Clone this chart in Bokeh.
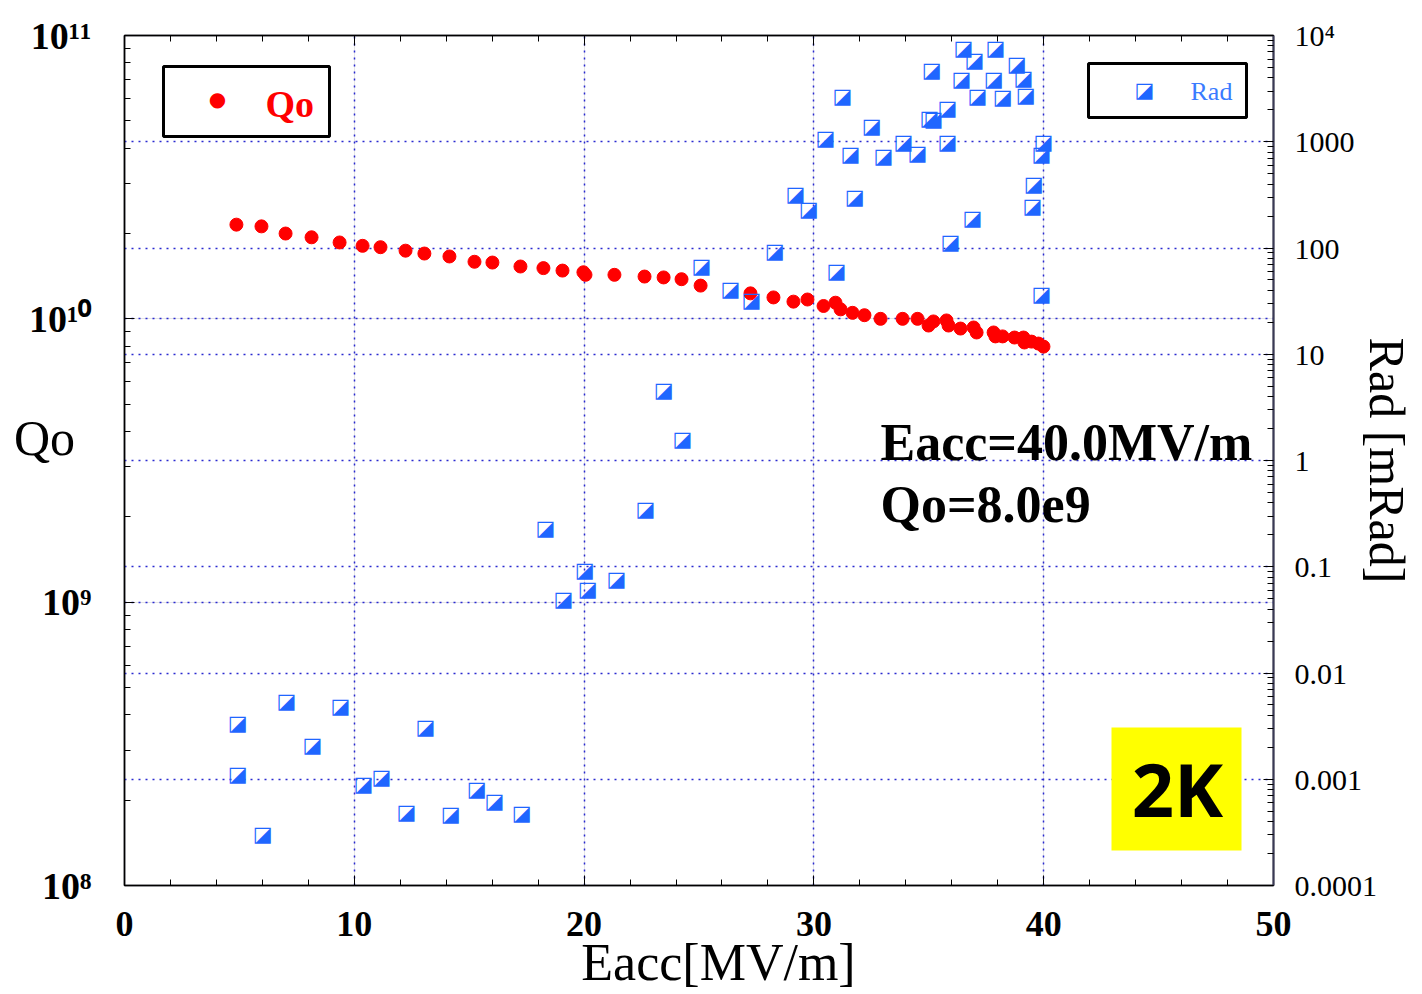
from bokeh.plotting import figure
from bokeh.models import (Range1d, LogAxis, LinearAxis, FixedTicker, SingleIntervalTicker,
                          Grid, Label, BoxAnnotation, LogScale, CustomJSTickFormatter)
from bokeh.core.properties import value
from bokeh.embed import file_html
from bokeh.resources import INLINE

# ---------------- data ----------------
qo_eacc = [4.87, 5.96, 7.01, 8.14, 9.36, 10.36, 11.14, 12.23, 13.05, 14.14, 15.23, 16.01,
           17.23, 18.23, 19.06, 19.97, 20.06, 21.32, 22.63, 23.46, 24.24, 25.07, 27.24,
           28.24, 29.11, 29.72, 30.42, 30.94, 31.16, 31.68, 32.20, 32.90, 33.86, 34.51,
           34.99, 35.20, 35.77, 35.86, 36.38, 36.95, 37.08, 37.82, 37.90, 38.21, 38.73,
           39.12, 39.16, 39.47, 39.77, 39.99]
qo_vals = [2.15e10, 2.12e10, 2.00e10, 1.94e10, 1.86e10, 1.81e10, 1.79e10, 1.74e10, 1.70e10,
           1.66e10, 1.59e10, 1.58e10, 1.53e10, 1.51e10, 1.48e10, 1.46e10, 1.43e10, 1.43e10,
           1.41e10, 1.40e10, 1.38e10, 1.31e10, 1.23e10, 1.19e10, 1.15e10, 1.17e10, 1.11e10,
           1.14e10, 1.08e10, 1.05e10, 1.03e10, 1.00e10, 1.00e10, 1.00e10, 9.47e9, 9.79e9,
           9.87e9, 9.47e9, 9.24e9, 9.32e9, 8.95e9, 8.95e9, 8.67e9, 8.67e9, 8.59e9, 8.59e9,
           8.25e9, 8.31e9, 8.18e9, 7.98e9]

rad_eacc = [4.92, 4.92, 6.01, 7.05, 8.18, 9.40, 10.40, 11.18, 12.27, 13.10, 14.19, 15.32,
            16.10, 17.28, 18.32, 19.10, 20.02, 20.15, 21.41, 22.67, 23.46, 24.28, 25.11,
            26.37, 27.28, 28.29, 29.20, 29.77, 30.50, 30.98, 31.24, 31.59, 31.77, 32.51,
            33.03, 33.90, 34.51, 35.03, 35.20, 35.12, 35.81, 35.81, 35.94, 36.42, 36.51,
            36.99, 36.90, 37.12, 37.90, 37.82, 38.21, 38.82, 39.12, 39.21, 39.56, 39.51,
            39.90, 39.99, 39.90]
rad_vals = [3.35e-3, 1.13e-3, 3.08e-4, 5.51e-3, 2.12e-3, 4.94e-3, 8.93e-4, 1.06e-3, 4.97e-4,
            3.13e-3, 4.66e-4, 8.01e-4, 6.18e-4, 4.86e-4, 0.234, 0.0502, 0.0942, 0.0624,
            0.0759, 0.346, 4.56, 1.61, 67, 40.7, 32.1, 94.7, 319, 235, 1073, 60.1, 2723,
            759, 299, 1393, 727, 984, 792, 1690, 1650, 4685, 2056, 984, 115, 3937, 7710,
            5821, 190, 2723, 7710, 3937, 2609, 5335, 4024, 2784, 404, 251, 759, 984, 37.3]

x_grid = [10, 20, 30, 40]
q_ticks = [1e8, 1e9, 1e10, 1e11]
q_labels = ["10\u2078", "10\u2079", "10\u00b9\u2070", "10\u00b9\u00b9"]
rad_ticks = [1e-4, 1e-3, 1e-2, 1e-1, 1, 10, 100, 1000, 1e4]
rad_labels = ["0.0001", "0.001", "0.01", "0.1", "1", "10", "100", "1000", "10\u2074"]
rad_grid = [1e-3, 1e-2, 1e-1, 1, 10, 100, 1000]
q_grid = [1e9, 1e10]

q_minor = [k * 10.0 ** e for e in (8, 9, 10) for k in range(2, 10)]
rad_minor = [k * 10.0 ** e for e in range(-4, 4) for k in range(2, 10)]

x_title = "Eacc[MV/m]"
y_title = "Qo"
y2_title = "Rad [mRad]"
annot_line1 = "Eacc=40.0MV/m"
annot_line2 = "Qo=8.0e9"
badge_text = "2K"
legend_q = "Qo"
legend_r = "Rad"

# ---------------- layout ----------------
W, H = 1420, 994
FL, FT, FW, FH = 124, 35, 1149, 850


def fx(px):
    return px - FL


def fy(py):
    return (FT + FH) - py


SERIF = "Liberation Serif"
GRID_COLOR = "#2a2ad0"
BLUE = "#1f66ff"

p = figure(width=W, height=H, x_range=Range1d(0, 50), y_range=Range1d(1e8, 1e11),
           y_axis_type="log", output_backend="svg", toolbar_location=None,
           x_axis_location=None, y_axis_location=None,
           min_border_left=FL, min_border_top=FT,
           min_border_right=W - FL - FW, min_border_bottom=H - FT - FH)
p.extra_y_ranges = {"rad": Range1d(1e-4, 1e4)}
p.extra_y_scales = {"rad": LogScale()}
p.outline_line_color = "#222233"
p.outline_line_width = 1.5
p.background_fill_color = "white"
p.border_fill_color = "white"

blank = CustomJSTickFormatter(code="return ''")
LOOKUP = """
const lt = Math.log10(tick);
for (let i = 0; i < tvals.length; i++) {
  if (Math.abs(Math.log10(tvals[i]) - lt) < 1e-6) return tlabels[i];
}
return '';
"""


def style_axis(ax):
    ax.major_tick_in = 10
    ax.major_tick_out = 0
    ax.minor_tick_in = 6
    ax.minor_tick_out = 0
    ax.axis_line_color = "black"
    ax.axis_line_width = 1.5
    ax.major_tick_line_color = "black"
    ax.minor_tick_line_color = "black"


xb = LinearAxis(ticker=SingleIntervalTicker(interval=10, num_minor_ticks=5))
style_axis(xb)
xb.major_label_text_font = SERIF
xb.major_label_text_font_style = "bold"
xb.major_label_text_font_size = "36px"
xb.major_label_text_color = "black"
xb.major_label_standoff = 26
xb.axis_label = "\u00a0\u00a0\u00a0" + x_title
xb.axis_label_text_font = SERIF
xb.axis_label_text_font_style = "normal"
xb.axis_label_text_font_size = "52px"
xb.axis_label_text_color = "black"
xb.axis_label_standoff = -5
p.add_layout(xb, "below")

xt = LinearAxis(ticker=SingleIntervalTicker(interval=10, num_minor_ticks=5), formatter=blank)
style_axis(xt)
xt.major_label_text_font_size = "1px"
xt.major_label_standoff = 0
p.add_layout(xt, "above")

yl = LogAxis(ticker=FixedTicker(ticks=q_ticks, minor_ticks=q_minor),
             formatter=CustomJSTickFormatter(args=dict(tvals=q_ticks, tlabels=q_labels), code=LOOKUP))
style_axis(yl)
yl.major_label_text_font = SERIF
yl.major_label_text_font_style = "bold"
yl.major_label_text_font_size = "38px"
yl.major_label_text_color = "black"
yl.major_label_standoff = 33
yl.axis_label = y_title + "\n\u00a0"
yl.axis_label_orientation = "horizontal"
yl.axis_label_text_font = SERIF
yl.axis_label_text_font_style = "normal"
yl.axis_label_text_font_size = "50px"
yl.axis_label_text_line_height = 0.8
yl.axis_label_text_color = "black"
yl.axis_label_standoff = -49
p.add_layout(yl, "left")

yr = LogAxis(y_range_name="rad", ticker=FixedTicker(ticks=rad_ticks, minor_ticks=rad_minor),
             formatter=CustomJSTickFormatter(args=dict(tvals=rad_ticks, tlabels=rad_labels), code=LOOKUP))
style_axis(yr)
yr.axis_line_color = "#3a3a55"
yr.axis_line_width = 2
yr.major_label_text_font = SERIF
yr.major_label_text_font_size = "30px"
yr.major_label_text_color = "black"
yr.major_label_standoff = 21
yr.axis_label = y2_title
yr.axis_label_text_font = SERIF
yr.axis_label_text_font_style = "normal"
yr.axis_label_text_font_size = "50px"
yr.axis_label_text_color = "black"
yr.axis_label_standoff = -21
p.add_layout(yr, "right")

# grids (dotted blue)
for g in (Grid(dimension=0, ticker=FixedTicker(ticks=x_grid)),
          Grid(dimension=1, ticker=FixedTicker(ticks=q_grid)),
          Grid(dimension=1, y_range_name="rad", ticker=FixedTicker(ticks=rad_grid))):
    g.grid_line_color = GRID_COLOR
    g.grid_line_width = 1.5
    g.grid_line_dash = "2 5"
    p.add_layout(g)

# ---------------- data marks ----------------
p.scatter(qo_eacc, qo_vals, size=13, marker="circle", fill_color="#ff0000", line_color="#ff0000")
p.text(rad_eacc, rad_vals, text=["\u25ea"] * len(rad_eacc), y_range_name="rad",
       text_font=value("DejaVu Sans"), text_font_size="21px", text_color=BLUE,
       text_align="center", text_baseline="middle")


def box(l, r, t, b, **kw):
    return BoxAnnotation(left=fx(l), right=fx(r), top=fy(t), bottom=fy(b),
                         left_units="screen", right_units="screen", top_units="screen",
                         bottom_units="screen", fill_alpha=1.0, line_alpha=1.0, **kw)


def label(x, y, text, **kw):
    return Label(x=fx(x), y=fy(y), x_units="screen", y_units="screen", text=text,
                 text_baseline="middle", **kw)


# ---------------- legends ----------------
p.add_layout(box(163, 329, 66, 136, fill_color="white", line_color="black", line_width=3))
p.add_layout(label(217, 98, "\u25cf", text_font="DejaVu Sans", text_font_size="20px",
                   text_color="#ff0000", text_align="center"))
p.add_layout(label(265, 103, legend_q, text_font=SERIF, text_font_style="bold",
                   text_font_size="38px", text_color="#ff0000", text_align="left"))

p.add_layout(box(1088, 1246, 63, 117, fill_color="white", line_color="black", line_width=3))
p.add_layout(label(1144, 89, "\u25ea", text_font="DejaVu Sans", text_font_size="21px",
                   text_color=BLUE, text_align="center"))
p.add_layout(label(1190, 91, legend_r, text_font=SERIF, text_font_size="26px",
                   text_color="#3a7bff", text_align="left"))

# ---------------- annotations ----------------
p.add_layout(label(880, 442, annot_line1, text_font=SERIF, text_font_style="bold",
                   text_font_size="52px", text_color="black", text_align="left"))
p.add_layout(label(880, 504, annot_line2, text_font=SERIF, text_font_style="bold",
                   text_font_size="52px", text_color="black", text_align="left"))

p.add_layout(box(1111, 1241, 727, 850, fill_color="#ffff00", line_color=None))
p.add_layout(label(1177, 788, badge_text, text_font="Open Sans", text_font_style="bold",
                   text_font_size="74px", text_color="black", text_align="center"))

open("out.html", "w").write(file_html(p, INLINE))
